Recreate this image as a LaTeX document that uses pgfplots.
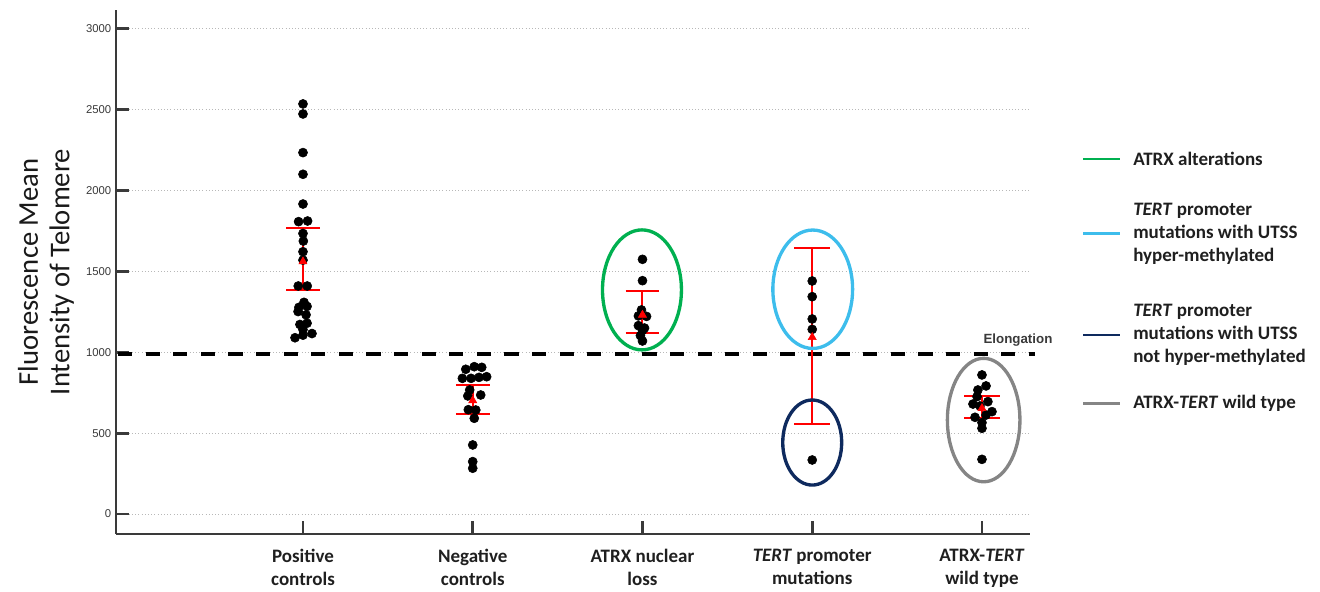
\documentclass[border=0pt]{standalone}
\usepackage{fontspec}
\setmainfont{Carlito}
\newfontfamily\arialf{Liberation Sans}
\usepackage{pgfplots}
\pgfplotsset{compat=1.18}
\definecolor{ellgreen}{HTML}{00B050}
\definecolor{elllblue}{HTML}{3DBDEC}
\definecolor{ellnavy}{HTML}{0E2A5E}
\definecolor{ellgray}{HTML}{858585}
\definecolor{spine}{HTML}{3A3A3A}
\definecolor{errred}{HTML}{FF0000}
\begin{document}
\begin{tikzpicture}
\useasboundingbox (-87pt,-43.5pt) rectangle (903pt,400.5pt);
\begin{axis}[
  at={(0pt,0pt)}, anchor=south west,
  scale only axis, width=685.5pt, height=393pt,
  xmin=-0.1016, xmax=5.283, ymin=-123.7, ymax=3117,
  axis x line*=bottom, axis y line*=left,
  axis line style={spine, line width=2.2pt},
  xtick={1,2,3,4,5},
  xticklabels={Positive\\controls, Negative\\controls, ATRX nuclear\\loss, \textit{TERT} promoter\\mutations, ATRX-\textit{TERT}\\wild type},
  xticklabel style={align=center, font=\bfseries\fontsize{14.25}{17.25}\selectfont, text=black!88, yshift=-7.5pt},
  ytick={0,500,...,3000},
  /pgf/number format/1000 sep={},
  /pgf/number format/assume math mode=true,
  yticklabel style={font=\arialf\fontsize{8.5}{10}\selectfont, text=spine},
  tick align=inside,
  major tick length=10pt,
  tick style={spine, line width=2.2pt},
  ymajorgrids, major grid style={black!28, dotted, line width=0.7pt},
  clip=false,
  ylabel={Fluorescence Mean\\Intensity of Telomere},
  every axis y label/.style={at={(axis description cs:-0.0766,0.5)}, rotate=90, anchor=center, align=center, font=\fontsize{21.5}{23.5}\selectfont, text=black!90},
  unbounded coords=jump,
]
% dashed threshold line
\addplot[black, line width=2.8pt, dash pattern=on 10.7pt off 10pt] coordinates {(-0.09,990) (5.31,990)};
% data points
\addplot[only marks, mark=*, mark size=3.4pt, black] table {
x y
1.000 2536
1.000 2474
1.000 2235
1.000 2101
1.000 1917
0.974 1808
1.027 1812
1.000 1735
1.002 1688
1.000 1622
1.000 1570
0.972 1410
1.025 1410
1.006 1309
0.976 1278
1.024 1284
0.971 1252
1.018 1232
0.982 1172
1.024 1180
1.000 1140
1.053 1116
1.000 1106
0.953 1090
1.959 895
2.009 911
2.053 907
1.939 839
1.990 839
2.037 845
2.082 849
1.982 767
1.971 730
2.047 736
1.974 645
2.018 643
2.009 592
2.000 427
2.000 324
2.000 283
3.000 1575
3.000 1443
2.994 1262
2.976 1225
3.024 1222
2.976 1165
3.012 1150
3.000 1135
2.988 1103
3.000 1070
4.000 1441
4.000 1344
4.000 1206
4.000 1142
4.000 334
5.000 860
5.024 792
4.976 767
4.971 726
5.035 695
4.947 680
4.988 668
5.059 633
5.024 612
4.959 598
5.000 565
5.000 530
5.000 338
};
% error bars (SD)
\addplot[errred, line width=1.5pt] coordinates {
(0.9,1383) (1.1,1383) (1,nan) (0.9,1771) (1.1,1771) (1,nan) (1,1383) (1,1771) (1,nan)
(1.9,619) (2.1,619) (2,nan) (1.9,798) (2.1,798) (2,nan) (2,619) (2,798) (2,nan)
(2.9,1122) (3.1,1122) (3,nan) (2.9,1379) (3.1,1379) (3,nan) (3,1122) (3,1379) (3,nan)
(3.895,555) (4.105,555) (4,nan) (3.895,1643) (4.105,1643) (4,nan) (4,555) (4,1643) (4,nan)
(4.895,592) (5.105,592) (5,nan) (4.895,730) (5.105,730) (5,nan) (5,592) (5,730)
};
% means
\addplot[only marks, mark=triangle*, mark size=3.5pt, errred] coordinates {(1,1561) (2,702) (3,1231) (4,1093) (5,654)};
\node[font=\arialf\bfseries\fontsize{10}{12}\selectfont, text=spine] at (axis cs:5.212,1076) {Elongation};
\coordinate (eg) at (axis cs:2.997,1386);
\coordinate (eb) at (axis cs:4.003,1390);
\coordinate (en) at (axis cs:4.000,442);
\coordinate (ey) at (axis cs:5.010,581);
\end{axis}
\draw[ellgreen, line width=2.5pt] (eg) ellipse [x radius=29.6pt, y radius=45pt];
\draw[elllblue, line width=2.5pt] (eb) ellipse [x radius=29.9pt, y radius=44.4pt];
\draw[ellnavy, line width=2.5pt] (en) ellipse [x radius=22.1pt, y radius=31.9pt];
\draw[ellgray, line width=2.5pt] (ey) ellipse [x radius=27.2pt, y radius=46.3pt];
% legend
\begin{scope}[every node/.style={anchor=west, inner sep=0pt, align=left, font=\bfseries\fontsize{14.25}{17.25}\selectfont, text=black!88}]
\draw[ellgreen, line width=2.2pt] (725.25pt,281.25pt) -- (753pt,281.25pt);
\node at (762.75pt,281.25pt) {ATRX alterations};
\draw[elllblue, line width=2.2pt] (725.25pt,225.4pt) -- (753pt,225.4pt);
\node at (762.75pt,225.4pt) {\textit{TERT} promoter\\mutations with UTSS\\hyper-methylated};
\draw[ellnavy, line width=2.2pt] (725.25pt,149.25pt) -- (753pt,149.25pt);
\node at (762.75pt,149.25pt) {\textit{TERT} promoter\\mutations with UTSS\\not hyper-methylated};
\draw[ellgray, line width=2.2pt] (725.25pt,98pt) -- (753pt,98pt);
\node at (762.75pt,98pt) {ATRX-\textit{TERT} wild type};
\end{scope}
\end{tikzpicture}
\end{document}
